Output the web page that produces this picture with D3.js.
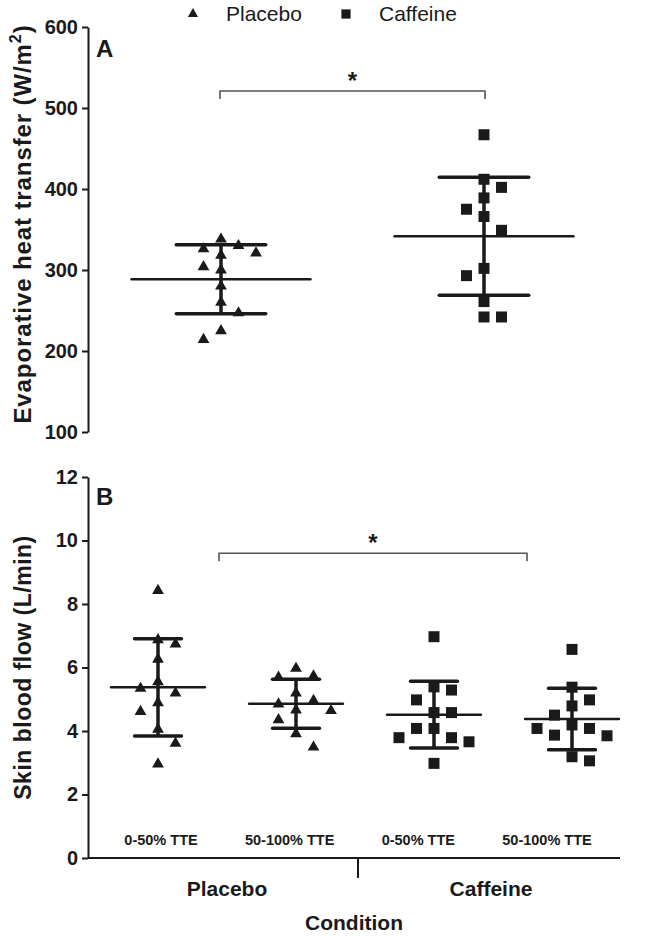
<!DOCTYPE html>
<html>
<head>
<meta charset="utf-8">
<script src="https://cdn.jsdelivr.net/npm/d3@7/dist/d3.min.js"></script>
<style>
  body { margin: 0; background: #fff; }
  svg text { font-family: Arial, "Liberation Sans", Helvetica, sans-serif; fill: #1a1a1a; }
</style>
</head>
<body>
<div id="chart"></div>
<script>
// Panel A - evaporative heat transfer (W/m2)
const groupsA = ['Placebo', 'Caffeine'];
const evapPlacebo = [338, 330, 326, 321, 318, 304, 300, 280, 260, 247, 225, 214];
const evapCaffeine = [467, 412, 402, 389, 375, 366, 349, 302, 293, 261, 242, 242];
const ticksA = [100, 200, 300, 400, 500, 600];

// Panel B - skin blood flow (L/min)
const groupsB = ['Placebo 0-50', 'Placebo 50-100', 'Caffeine 0-50', 'Caffeine 50-100'];
const labelsB = ['0-50% TTE', '50-100% TTE', '0-50% TTE', '50-100% TTE'];
const sbfPlacebo0 = [8.42, 6.87, 6.74, 6.26, 5.55, 5.34, 5.19, 4.89, 4.61, 4.05, 3.61, 2.96];
const sbfPlacebo50 = [5.97, 5.73, 5.69, 5.19, 4.96, 4.85, 4.66, 4.64, 4.35, 3.91, 3.49];
const sbfCaffeine0 = [6.97, 5.39, 5.29, 4.98, 4.58, 4.58, 4.08, 4.08, 3.79, 3.79, 3.66, 2.98];
const sbfCaffeine50 = [6.57, 5.38, 4.98, 4.79, 4.50, 4.19, 4.08, 4.08, 3.87, 3.85, 3.19, 3.06];
const ticksB = [0, 2, 4, 6, 8, 10, 12];
const conditions = ['Placebo', 'Caffeine'];

const width = 645, height = 936;
const axisX = 88;
const ink = '#1a1a1a';

const svg = d3.select('#chart').append('svg')
  .attr('width', width)
  .attr('height', height);

const triangle = d3.symbol().type(d3.symbolTriangle).size(60);
const square = d3.symbol().type(d3.symbolSquare).size(121);

// column scatter: push colliding points into side lanes,
// keeping both sides of the column roughly balanced
function dodge(values, yScale, minGap) {
  const placed = [];
  let left = 0, right = 0;
  return values.map((v) => {
    const y = yScale(v);
    const free = (l) => !placed.some((p) => p.lane === l && Math.abs(p.y - y) < minGap);
    let lane = 0;
    if (!free(0)) {
      for (let k = 1; k < 5; k++) {
        const first = right <= left ? k : -k;
        if (free(first)) { lane = first; break; }
        if (free(-first)) { lane = -first; break; }
      }
    }
    if (lane > 0) right++;
    if (lane < 0) left++;
    placed.push({ lane, y });
    return { value: v, lane, y };
  });
}

function drawColumn(g, values, cx, yScale, symbol, step) {
  const m = d3.mean(values), sd = d3.deviation(values);
  const meanHalf = step * 0.34, capHalf = step * 0.17;
  const pts = dodge(values, yScale, 14.5);

  g.append('g').selectAll('path')
    .data(pts)
    .enter()
    .append('path')
    .attr('d', symbol)
    .attr('transform', (d) => `translate(${cx + d.lane * 17.5}, ${d.y})`)
    .attr('fill', ink);

  g.append('line')
    .attr('x1', cx).attr('x2', cx)
    .attr('y1', yScale(m + sd)).attr('y2', yScale(m - sd))
    .attr('stroke', ink).attr('stroke-width', 3.5);
  [m + sd, m - sd].forEach((v) => {
    g.append('line')
      .attr('x1', cx - capHalf).attr('x2', cx + capHalf)
      .attr('y1', yScale(v)).attr('y2', yScale(v))
      .attr('stroke', ink).attr('stroke-width', 3.5)
      .attr('stroke-linecap', 'round');
  });
  g.append('line')
    .attr('x1', cx - meanHalf).attr('x2', cx + meanHalf)
    .attr('y1', yScale(m)).attr('y2', yScale(m))
    .attr('stroke', ink).attr('stroke-width', 2.5)
    .attr('stroke-linecap', 'round');
}

function bracket(x1, x2, y) {
  svg.append('path')
    .attr('d', `M${x1},${y + 8}V${y}H${x2}V${y + 8}`)
    .attr('fill', 'none')
    .attr('stroke', '#555')
    .attr('stroke-width', 1.6);
  svg.append('text')
    .attr('x', (x1 + x2) / 2)
    .attr('y', y - 2)
    .attr('text-anchor', 'middle')
    .attr('font-size', 24)
    .attr('font-weight', 'bold')
    .text('*');
}

function styleAxis(g) {
  g.select('.domain').attr('stroke', ink).attr('stroke-width', 2);
  g.selectAll('.tick line').attr('stroke', ink).attr('stroke-width', 2);
  g.selectAll('.tick text')
    .attr('font-size', 20)
    .attr('font-weight', 'bold')
    .attr('fill', ink);
}

// ---------- Panel A ----------
const yA = d3.scaleLinear().domain([100, 600]).range([432, 27]);
const xA = d3.scalePoint().domain(groupsA).range([221, 484]);

svg.append('g')
  .attr('transform', `translate(${axisX}, 0)`)
  .call(d3.axisLeft(yA).tickValues(ticksA).tickSize(6).tickSizeOuter(0).tickPadding(4))
  .call(styleAxis);

const gA = svg.append('g');
drawColumn(gA, evapPlacebo, xA('Placebo'), yA, triangle, xA.step());
drawColumn(gA, evapCaffeine, xA('Caffeine'), yA, square, xA.step());
bracket(xA('Placebo') - 1, xA('Caffeine') + 1, yA(521));

svg.append('text')
  .attr('x', 96).attr('y', 57)
  .attr('font-size', 24).attr('font-weight', 'bold')
  .text('A');

svg.append('text')
  .attr('transform', `translate(31, 224) rotate(-90)`)
  .attr('text-anchor', 'middle')
  .attr('font-size', 24).attr('font-weight', 'bold')
  .attr('letter-spacing', 0.9)
  .call((t) => {
    t.append('tspan').text('Evaporative heat transfer (W/m');
    t.append('tspan').attr('dy', -10).attr('font-size', 16).text('2');
    t.append('tspan').attr('dy', 10).text(')');
  });

// ---------- Panel B ----------
const yB = d3.scaleLinear().domain([0, 12]).range([858, 477]);
const xB = d3.scalePoint().domain(groupsB).range([158, 572]);
const xBLabel = d3.scalePoint().domain(groupsB).range([161, 547]);
const xCond = d3.scalePoint().domain(conditions).range([227, 491]);

svg.append('g')
  .attr('transform', `translate(${axisX}, 0)`)
  .call(d3.axisLeft(yB).tickValues(ticksB).tickSize(6).tickSizeOuter(0).tickPadding(4))
  .call(styleAxis);

svg.append('line')
  .attr('x1', axisX).attr('x2', 620)
  .attr('y1', yB(0)).attr('y2', yB(0))
  .attr('stroke', ink).attr('stroke-width', 2);
svg.append('line')
  .attr('x1', 358).attr('x2', 358)
  .attr('y1', yB(0)).attr('y2', yB(0) + 20)
  .attr('stroke', ink).attr('stroke-width', 2);

const gB = svg.append('g');
const seriesB = [sbfPlacebo0, sbfPlacebo50, sbfCaffeine0, sbfCaffeine50];
groupsB.forEach((k, i) => {
  drawColumn(gB, seriesB[i], xB(k), yB, i < 2 ? triangle : square, xB.step());
});
bracket(219, 527, yB(9.6));

svg.append('g').selectAll('text')
  .data(groupsB)
  .enter()
  .append('text')
  .attr('x', (d) => xBLabel(d))
  .attr('y', 845)
  .attr('text-anchor', 'middle')
  .attr('font-size', 14.5)
  .attr('font-weight', 'bold')
  .text((d, i) => labelsB[i]);

svg.append('g').selectAll('text')
  .data(conditions)
  .enter()
  .append('text')
  .attr('x', (d) => xCond(d))
  .attr('y', 896)
  .attr('text-anchor', 'middle')
  .attr('font-size', 21)
  .attr('font-weight', 'bold')
  .text((d) => d);

svg.append('text')
  .attr('x', 354).attr('y', 930)
  .attr('text-anchor', 'middle')
  .attr('font-size', 21).attr('font-weight', 'bold')
  .text('Condition');

svg.append('text')
  .attr('x', 96).attr('y', 505)
  .attr('font-size', 24).attr('font-weight', 'bold')
  .text('B');

svg.append('text')
  .attr('transform', `translate(31, ${(yB(0) + yB(12)) / 2}) rotate(-90)`)
  .attr('text-anchor', 'middle')
  .attr('font-size', 23).attr('font-weight', 'bold')
  .attr('letter-spacing', 0.5)
  .text('Skin blood flow (L/min)');

// ---------- Legend ----------
const legend = svg.append('g').attr('font-size', 21);
[['Placebo', triangle, 193, 226], ['Caffeine', square, 346, 379]].forEach(([name, sym, sx, tx]) => {
  legend.append('path')
    .attr('d', sym.size(sym === triangle ? 45 : 85)())
    .attr('transform', `translate(${sx}, 14)`)
    .attr('fill', ink);
  legend.append('text')
    .attr('x', tx).attr('y', 21)
    .text(name);
});
</script>
</body>
</html>
